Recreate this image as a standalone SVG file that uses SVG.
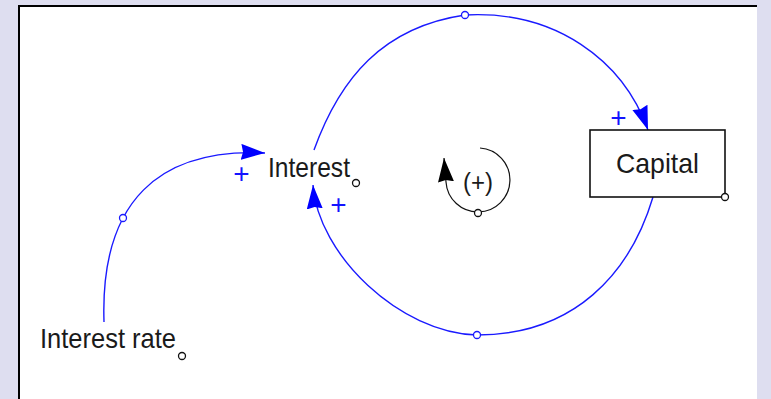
<svg xmlns="http://www.w3.org/2000/svg" width="771" height="399" viewBox="0 0 771 399">
  <style>
    .lbl { font-family: "Liberation Sans", Arial, sans-serif; font-size: 28px; fill: #1a1a1a; }
    .pol { font-family: "Liberation Sans", Arial, sans-serif; font-size: 28px; fill: #1414ff; text-anchor: middle; }
    .link { fill: none; stroke: #1a1aff; stroke-width: 1.4; }
    .handle { fill: #ffffff; stroke: #1a1aff; stroke-width: 1.3; }
    .hnode { fill: #ffffff; stroke: #111111; stroke-width: 1.3; }
  </style>
  <defs>
    <marker id="bluehead" markerUnits="userSpaceOnUse" markerWidth="26" markerHeight="18" refX="24" refY="8" orient="auto" viewBox="0 0 26 18">
      <path d="M0,0 L24,8 L0,16 L2,8 z" fill="#0000ff"/>
    </marker>
    <marker id="blackhead" markerUnits="userSpaceOnUse" markerWidth="26" markerHeight="18" refX="24" refY="8" orient="auto" viewBox="0 0 26 18">
      <path d="M0,0 L24,8 L0,16 L2,8 z" fill="#000000"/>
    </marker>
  </defs>

  <rect x="0" y="0" width="771" height="399" fill="#dedef0"/>
  <rect x="19" y="6" width="738" height="400" fill="#ffffff"/>
  <path d="M19,399 L19,6 L757,6" fill="none" stroke="#000000" stroke-width="2"/>

  <g id="connectors">
    <path id="interest-to-capital" class="link" d="M314,150 C340,78 383,27 465,15 C555,10 623,60 648,130" marker-end="url(#bluehead)"/>
    <path id="capital-to-interest" class="link" d="M653,197 C630,274 574,335 477,335 C400,333 318,255 313,185" marker-end="url(#bluehead)"/>
    <path id="rate-to-interest" class="link" d="M104,322 C100,200 160,148 265,153" marker-end="url(#bluehead)"/>
    <circle class="handle" cx="465" cy="15" r="3.5"/>
    <circle class="handle" cx="477" cy="335" r="3.5"/>
    <circle class="handle" cx="123" cy="218" r="3.5"/>
    <text class="pol" x="618.5" y="127">+</text>
    <text class="pol" x="338.5" y="214">+</text>
    <text class="pol" x="241.5" y="183">+</text>
  </g>

  <g id="node-interest-rate">
    <text class="lbl" x="40" y="348" textLength="136" lengthAdjust="spacingAndGlyphs">Interest rate</text>
    <circle class="hnode" cx="182" cy="356" r="3.5"/>
  </g>

  <g id="node-interest">
    <text class="lbl" x="268" y="177" textLength="82" lengthAdjust="spacingAndGlyphs">Interest</text>
    <circle class="hnode" cx="356" cy="183" r="3.5"/>
  </g>

  <g id="node-capital">
    <rect x="590" y="130" width="135" height="67" fill="#ffffff" stroke="#111111" stroke-width="1.6"/>
    <text class="lbl" x="616" y="173" textLength="83" lengthAdjust="spacingAndGlyphs">Capital</text>
    <circle class="hnode" cx="725" cy="197" r="3.5"/>
  </g>

  <g id="loop-marker">
    <path d="M480,148 A32,32 0 1 1 446,182 L444,158" fill="none" stroke="#111111" stroke-width="1.2" marker-end="url(#blackhead)"/>
    <circle class="hnode" cx="478" cy="213" r="3.5"/>
    <text x="478" y="191" font-family="Liberation Sans, Arial, sans-serif" font-size="25" fill="#1a1a1a" text-anchor="middle" textLength="30" lengthAdjust="spacingAndGlyphs">(+)</text>
  </g>
</svg>
